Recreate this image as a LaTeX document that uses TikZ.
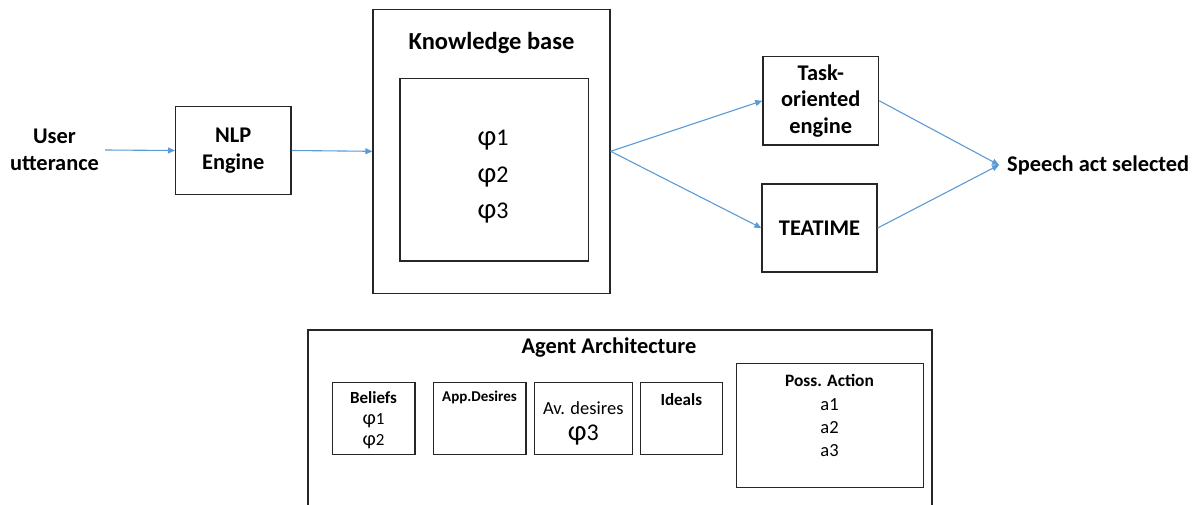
\documentclass[tikz,border=0pt]{standalone}
\usepackage{fontspec}
\setmainfont{Carlito}
\usetikzlibrary{arrows.meta}
\definecolor{arrowblue}{HTML}{5B9BD5}
\definecolor{boxline}{HTML}{262626}
\newcommand{\phig}{\scalebox{1.2}{φ}}
\begin{document}
\begin{tikzpicture}[x=1pt,y=-1pt,
  box/.style={draw=boxline, line width=1.3pt, rectangle, inner sep=0pt, align=center},
  flow/.style={draw=arrowblue, line width=1.1pt, -{Triangle[length=7pt,width=6pt]}},
  bigb/.style={font=\fontsize{22.4}{26.5}\selectfont\bfseries, align=center},
  txt/.style={inner sep=0pt, align=center}
]
\useasboundingbox (0,0) rectangle (1199,505);
\clip (0,0) rectangle (1199,505);

% top row
\node[bigb, inner xsep=6pt, inner ysep=0pt] (user) at (54.5,150) {User\\utterance};
\node[box, bigb, minimum width=115.3pt, minimum height=87.6pt] (nlp) at (233.3,150.5) {NLP\\Engine};
\node[box, minimum width=237pt, minimum height=284pt] (kb) at (491.5,151.3) {};
\node[txt, bigb, font=\fontsize{24.5}{29}\selectfont\bfseries, anchor=base] (kbt) at (491.5,50) {Knowledge base};
\node[box, minimum width=188.7pt, minimum height=182.3pt] (kbin) at (494.3,169.8) {};
\node[txt, font=\fontsize{24}{36.5}\selectfont] (kbphi) at (493,177) {\phig1\\\phig2\\\phig3};
\node[box, bigb, minimum width=115.7pt, minimum height=88.3pt] (task) at (820.8,100.8) {Task-\\oriented\\engine};
\node[box, bigb, minimum width=115pt, minimum height=88pt] (tea) at (819.5,228) {TEATIME};
\node[bigb, anchor=west, inner xsep=8pt, inner ysep=0pt] (speech) at (999,165) {Speech act selected};

\draw[flow] (user.east) -- (nlp.west);
\draw[flow] (nlp.east) -- (kb.west);
\draw[flow] (kb.east) -- (task.west);
\draw[flow] (kb.east) -- (tea.west);
\draw[flow] (task.east) -- (speech.west);
\draw[flow] (tea.east) -- (speech.west);

% agent architecture
\node[box, minimum width=624pt, minimum height=220pt] (agent) at (620,440) {};
\node[txt, bigb, anchor=base] (agentt) at (609,353) {Agent Architecture};

\node[box, minimum width=82.7pt, minimum height=72.4pt] (bel) at (373.7,418.5) {};
\node[txt, font=\fontsize{17}{21}\selectfont] (belt) at (373.5,419.8) {\textbf{Beliefs}\\\phig1\\\phig2};

\node[box, minimum width=92.7pt, minimum height=72.4pt] (appd) at (479.7,418.5) {};
\node[txt, anchor=base, font=\fontsize{15}{18}\selectfont\bfseries] (appdt) at (479.5,401) {App.Desires};

\node[box, minimum width=98pt, minimum height=72.4pt] (avd) at (583.3,418.5) {};
\node[txt, anchor=base, font=\fontsize{18.5}{22}\selectfont] (avdt) at (583.3,414.3) {Av. desires};
\node[txt, anchor=base, font=\fontsize{24}{27}\selectfont] (avdphi) at (583.3,440.5) {\phig3};

\node[box, minimum width=81.6pt, minimum height=72.4pt] (ideals) at (681.5,418.5) {};
\node[txt, anchor=base, font=\fontsize{17}{20}\selectfont\bfseries] (idealst) at (681.3,405) {Ideals};

\node[box, minimum width=186.6pt, minimum height=124pt] (poss) at (830,425.3) {};
\node[txt, anchor=base, font=\fontsize{17.4}{21}\selectfont\bfseries] (posst) at (829.5,386.7) {Poss. Action};
\node[txt, font=\fontsize{18.5}{23.3}\selectfont] (possa) at (829.5,427.5) {a1\\a2\\a3};
\end{tikzpicture}
\end{document}
